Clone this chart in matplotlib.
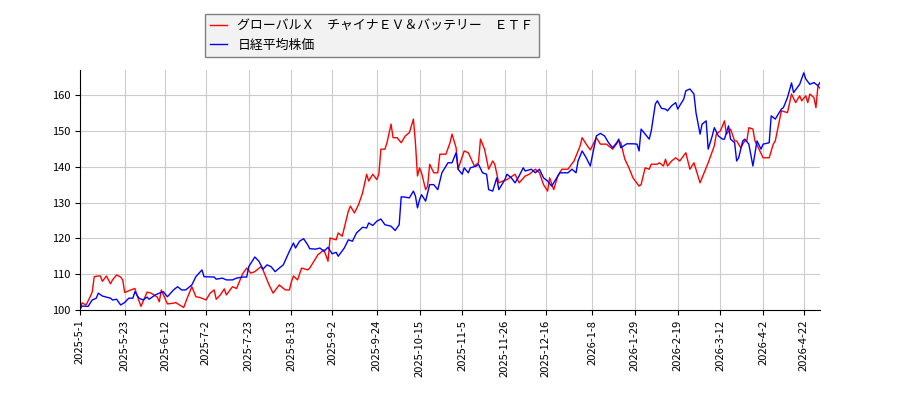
import numpy as np
import pandas as pd
import matplotlib
matplotlib.use("Agg")
import matplotlib.pyplot as plt

plt.rcParams['font.family'] = ['Noto Sans CJK JP', 'DejaVu Sans']

# 起点 2025-05-01 からの経過日数と指数 (起点=100)
start = pd.Timestamp('2025-05-01')

etf_days = [0, 1, 3, 5, 6, 7, 9, 10, 11, 13, 15, 16, 18, 20, 21, 22, 25, 27, 28, 30,
            33, 35, 38, 39, 40, 43, 46, 47, 51, 53, 55, 57, 59, 62, 64, 66, 67, 69, 71, 72,
            75, 77, 80, 82, 84, 86, 89, 90, 93, 95, 98, 101, 103, 104, 105, 107, 109, 112, 113, 117,
            120, 122, 123, 126, 127, 129, 132, 133, 135, 137, 139, 141, 142, 144, 146, 147, 148, 150, 151, 153,
            154, 156, 158, 160, 162, 164, 165, 166,
            167, 168, 170, 171, 172, 174, 176, 177, 180, 182, 183, 185, 186, 187, 189, 191, 194, 196, 197, 199,
            201, 203, 204, 206, 208, 210, 214, 216, 219, 221, 224, 226, 228, 230, 231, 233, 235, 237, 240, 243,
            244, 246, 247, 249, 251, 252, 254, 256, 259, 262, 265, 266, 268, 270, 272, 275, 276, 278, 280, 281,
            284, 285, 287, 288, 289, 291, 293, 295, 298, 300, 302, 305, 307, 309, 312, 313, 315, 317, 318, 320,
            322, 323, 325, 327, 328, 329, 331, 332, 334, 336, 339, 341, 342, 344, 345, 348, 350, 352, 354, 355,
            357, 358, 359, 361, 362, 363, 364]
etf_vals = [100, 102, 101.4, 103.7, 105, 109.3, 109.5, 109.5, 108, 109.5, 107.3, 108.4, 109.8, 109.2, 108.4, 104.9, 105.6, 106, 104.2, 101,
            105, 104.7, 103.6, 102.3, 105.6, 101.7, 101.9, 102.1, 100.7, 103.7, 106.5, 103.7, 103.5, 102.8, 104.7, 105.6, 103, 104.2, 105.9, 104.2,
            106.5, 106, 110.1, 111.7, 110.3, 110.7, 112.1, 111.2, 107, 104.7, 107, 105.6, 105.6, 107.9, 109.5, 108.4, 111.7, 111.2, 111.7, 115.4,
            116.8, 113.6, 120.1, 119.6, 121.5, 120.6, 127.6, 129, 127.1, 129.4, 132.7, 137.9, 136, 137.9, 136.4, 137.9, 144.9, 144.9, 146.7, 151.9,
            148.1, 148.1, 146.7, 148.6, 149.5, 153.3, 146.7, 137.4,
            139.7, 138.3, 133.6, 134.6, 140.7, 138.3, 138.3, 143.5, 143.5, 146.7, 149.1, 145.3, 139.3, 141.1, 144.4, 143.9, 140.2, 141.1, 147.7, 144.9,
            139.3, 141.6, 140.7, 135.5, 136, 136.4, 137.9, 135.5, 137.4, 137.9, 139.3, 138.3, 135, 133.2, 136.9, 133.6, 137.4, 139.3, 139.3, 141.6,
            143, 145.8, 148.1, 146.3, 144.7, 145.8, 148.1, 146.3, 146.3, 144.9, 147.2, 146.7, 142.1, 139.7, 136.9, 134.6, 135, 139.7, 139.3, 140.7,
            140.7, 141.1, 140.2, 142.1, 140.2, 141.6, 142.5, 141.6, 143.9, 139.3, 141.1, 135.5, 138.3, 141.1, 145.8, 149.1, 150, 152.8, 149.1, 150.5,
            147.2, 147.2, 145.3, 147.2, 147.2, 150.9, 150.5, 147.2, 144.9, 142.5, 142.5, 146.3, 147.2, 152.8, 155.6, 155.1, 160.3, 157.9, 159.8, 158.4,
            159.8, 157.9, 160.3, 159.3, 156.5, 162.6, 161.9]

nikkei_days = [0, 1, 4, 6, 8, 9, 11, 13, 15, 16, 18, 20, 22, 24, 26, 27, 29, 31, 33, 34,
               37, 39, 41, 43, 46, 48, 50, 52, 55, 57, 60, 61, 66, 67, 70, 72, 75, 77, 80, 82,
               83, 86, 88, 90, 92, 94, 96, 98, 100, 103, 105, 106, 108, 110, 112, 113, 116, 118, 120, 122,
               124, 126, 127, 130, 132, 134, 136, 139, 141, 142, 144, 146, 148, 150, 153, 155, 157, 158, 160, 162,
               164, 165, 166,
               167, 168, 170, 172, 174, 176, 178, 181, 183, 185, 186, 188, 189, 191, 192, 195, 196, 198, 200, 201,
               203, 205, 206, 209, 210, 212, 214, 216, 218, 219, 222, 224, 226, 228, 230, 232, 234, 236, 240, 242,
               244, 245, 247, 249, 251, 252, 254, 256, 258, 260, 262, 264, 265, 266, 269, 272, 274, 275, 276, 278,
               280, 281, 283, 284, 286, 288, 289, 291, 293, 294, 297, 298, 300, 302, 303, 305, 306, 308, 309, 311,
               312, 314, 316, 317, 319, 320, 322, 323, 324, 326, 327, 329, 331, 333, 335, 336, 339, 340, 342, 345,
               346, 348, 350, 351, 354, 356, 357, 359, 361, 363, 364]
nikkei_vals = [100.2, 101.1, 101, 102.8, 103.3, 104.7, 103.9, 103.6, 103.3, 102.8, 103, 101.4, 102.1, 103.3, 103.3, 105.1, 103.3, 102.8, 103.6, 103,
               104.2, 104.7, 105.1, 103.7, 105.6, 106.5, 105.6, 105.6, 107, 109.3, 111.2, 109.3, 109.2, 108.6, 108.9, 108.4, 108.4, 108.9, 109.2, 109.2,
               112.1, 114.8, 113.6, 111.4, 112.6, 112.1, 110.7, 111.7, 112.6, 116.4, 118.7, 117.3, 119.2, 119.9, 118.2, 117.1, 117, 117.3, 116.4, 117.5,
               115.7, 116.1, 115, 117.3, 119.6, 119.2, 121.5, 123.1, 122.9, 124.3, 123.6, 124.8, 125.4, 123.8, 123.4, 122.2, 123.8, 131.6, 131.5, 131.3,
               133.2, 131.8, 128.5,
               130.8, 132.2, 130.4, 135, 135, 133.6, 138.3, 141.1, 141.1, 143.9, 139.3, 137.9, 139.7, 138.3, 139.7, 140.2, 140.7, 138.3, 137.9, 133.6,
               133.2, 136.9, 133.6, 136.4, 137.9, 137, 135.5, 137.4, 139.7, 138.8, 139.3, 138.3, 139.3, 136.9, 136, 134.6, 136.4, 138.3, 138.3, 139.3,
               138.3, 141.6, 144.4, 142.5, 140.2, 143, 148.6, 149.3, 148.6, 146.7, 145.3, 146.7, 147.7, 145.3, 146.4, 146.4, 146.3, 144.4, 150.5, 149.1,
               147.7, 150, 157.5, 158.4, 156.3, 156.1, 155.6, 157, 157.9, 156.1, 158.9, 161.2, 161.7, 160.3, 155.1, 149.1, 151.9, 152.8, 144.9, 148.6,
               150.9, 148.6, 147.7, 147.7, 151.4, 147.7, 146.7, 141.6, 142.5, 147.2, 147.7, 146.3, 140.2, 147.2, 144.9, 146.3, 146.7, 154.2, 153.3, 156.1,
               156.5, 159.3, 163.4, 160.7, 163, 166.2, 164.5, 163, 163.5, 162.6, 163.5]

tick_dates = ['2025-05-01', '2025-05-23', '2025-06-12', '2025-07-02', '2025-07-23', '2025-08-13',
              '2025-09-02', '2025-09-24', '2025-10-15', '2025-11-05', '2025-11-26', '2025-12-16',
              '2026-01-08', '2026-01-29', '2026-02-19', '2026-03-12', '2026-04-02', '2026-04-22']

etf_label = 'グローバルＸ　チャイナＥＶ＆バッテリー　ＥＴＦ'
nikkei_label = '日経平均株価'

etf_dates = start + pd.to_timedelta(etf_days, unit='D')
nikkei_dates = start + pd.to_timedelta(nikkei_days, unit='D')

fig = plt.figure(figsize=(9, 4), dpi=100)
ax = fig.add_axes([80 / 900, 1 - 310 / 400, 740 / 900, 240 / 400])

ax.plot(etf_dates, etf_vals, color='red', lw=1, label=etf_label)
ax.plot(nikkei_dates, nikkei_vals, color='blue', lw=1, label=nikkei_label)

ticks = pd.to_datetime(tick_dates)
ax.set_xticks(ticks)
ax.set_xticklabels([f'{d.year}-{d.month}-{d.day}' for d in ticks], rotation=90, fontsize=8)
ax.set_yticks(np.arange(100, 161, 10))
ax.tick_params(axis='y', labelsize=8)
ax.set_xlim(start, pd.Timestamp('2026-04-30'))
ax.set_ylim(100, 167)
ax.grid(True, color='#cccccc', lw=0.8)
ax.set_axisbelow(True)
for s in ['top', 'right']:
    ax.spines[s].set_visible(False)

fig.legend(loc='upper left', bbox_to_anchor=(205 / 900, 1 - 14 / 400), borderaxespad=0,
           fontsize=9.3, handlelength=1.3, facecolor='#f2f2f2', edgecolor='#808080',
           framealpha=1, fancybox=False)

fig.savefig('out.png')
